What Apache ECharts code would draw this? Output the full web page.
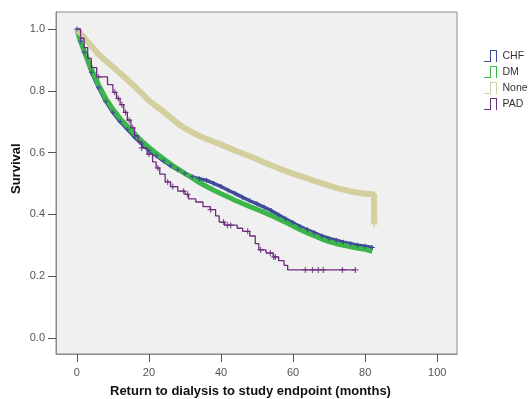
<!DOCTYPE html>
<html><head><meta charset="utf-8">
<script src="https://cdn.jsdelivr.net/npm/echarts@6/dist/echarts.min.js"></script>
<style>html,body{margin:0;padding:0;background:#fff}#c{width:530px;height:399px}</style>
</head><body><div id="c"></div>
<script>
const seriesNames = ['CHF', 'DM', 'None', 'PAD'];
const xTicks = [0, 20, 40, 60, 80, 100];
const yTicks = [0, 0.2, 0.4, 0.6, 0.8, 1.0];

const chfTimes = [0,1,2,4,6,8,10,12,14,16,18,20,22,24,26,28,30,32,34,36,38,40,42,44,46,48,50,52,54,56,58,60,62,64,66,68,70,72,74,76,78,80,82];
const chfSurv  = [1.0,0.96,0.925,0.86,0.81,0.765,0.73,0.70,0.675,0.65,0.628,0.607,0.59,0.573,0.557,0.544,0.533,0.522,0.515,0.51,0.50,0.49,0.478,0.467,0.455,0.444,0.434,0.423,0.412,0.398,0.385,0.373,0.36,0.35,0.34,0.33,0.322,0.316,0.31,0.305,0.30,0.297,0.293];

const dmTimes = [0,1,2,4,6,8,10,12,14,16,18,20,22,24,26,28,30,32,34,36,38,40,42,44,46,48,50,52,54,56,58,60,62,64,66,68,70,72,74,76,78,80,82];
const dmSurv  = [1.0,0.96,0.93,0.87,0.82,0.775,0.74,0.71,0.685,0.66,0.637,0.617,0.598,0.58,0.563,0.547,0.532,0.518,0.503,0.49,0.478,0.467,0.456,0.445,0.435,0.425,0.416,0.406,0.396,0.385,0.374,0.362,0.35,0.34,0.33,0.32,0.312,0.305,0.30,0.295,0.29,0.287,0.28];

const noneTimes = [0,2,4,6,8,10,12,14,16,18,20,22,24,26,28,30,32,34,36,38,40,42,44,46,48,50,52,54,56,58,60,62,64,66,68,70,72,74,76,78,80,82.5,82.5];
const noneSurv  = [1.0,0.972,0.945,0.918,0.897,0.877,0.857,0.836,0.814,0.792,0.768,0.75,0.733,0.713,0.694,0.678,0.665,0.654,0.644,0.635,0.626,0.616,0.606,0.597,0.588,0.578,0.568,0.558,0.549,0.54,0.532,0.524,0.516,0.508,0.50,0.493,0.486,0.48,0.474,0.47,0.467,0.465,0.37];

const padTimes = [0,1,2,3,4,5.5,8.5,10,11,12,13,14,15,16,17,18,19.5,21,22,23,24.5,26,28,30,31,33,35,37,38.5,39.5,41,44.5,46,48,49.5,50.5,52.5,54.5,56,57.5,58.5,77.3];
const padSurv  = [1.0,0.97,0.94,0.905,0.875,0.845,0.82,0.795,0.775,0.755,0.73,0.705,0.68,0.655,0.635,0.615,0.595,0.57,0.55,0.53,0.505,0.49,0.475,0.465,0.45,0.44,0.425,0.415,0.395,0.375,0.365,0.355,0.345,0.33,0.305,0.285,0.275,0.262,0.25,0.235,0.22,0.22];
const padCensor = [6,10.5,11.5,12.5,13.5,14.5,15.5,16.5,18,20,22.5,25.2,26.6,29.6,30.7,37.1,40.7,41.8,42.7,47.4,51,53.7,54.6,55.1,63.4,65.4,67,68.4,73.7,77.3];

const colors = {CHF:'#3f4c9c', DM:'#3cb54a', None:'#d3cf9f', PAD:'#6b2c7c'};

const zip = (a,b) => a.map((v,i)=>[v,b[i]]);
function stepAt(times, surv, t){ let y = surv[0]; for (let i=0;i<times.length;i++){ if (times[i] <= t) y = surv[i]; } return y; }

const plus = 'path://M4,0L6,0L6,4L10,4L10,6L6,6L6,10L4,10L4,6L0,6L0,4L4,4Z';
const stepIcon = 'path://M0,11L6,11L6,0L13,0L13,12L12,12L12,1L7,1L7,12L0,12Z';

const chart = echarts.init(document.getElementById('c'), null, {renderer:'canvas'});
const font = 'Liberation Sans, Arial, sans-serif';
chart.setOption({
  animation:false,
  backgroundColor:'#fff',
  grid:{left:56, right:73, top:12, bottom:45, show:true, backgroundColor:'#f0f0f0', borderColor:'#8a8a8a', borderWidth:1},
  legend:{
    orient:'vertical', left:479, top:45, itemWidth:18, itemHeight:12, itemGap:4,
    icon: stepIcon,
    textStyle:{fontFamily:font, fontSize:10.5, color:'#333', padding:[0,0,0,-2]},
    data: seriesNames
  },
  xAxis:{
    type:'value', min:-5.8, max:105.5,
    splitLine:{show:false},
    axisLine:{show:true, onZero:false, lineStyle:{color:'#8a8a8a'}},
    axisTick:{show:true, inside:false, length:8, customValues:xTicks, lineStyle:{color:'#555'}},
    axisLabel:{customValues:xTicks, fontFamily:font, fontSize:11, color:'#555', margin:13}
  },
  yAxis:{
    type:'value', min:-0.052, max:1.055,
    splitLine:{show:false},
    axisLine:{show:true, onZero:false, lineStyle:{color:'#8a8a8a'}},
    axisTick:{show:true, inside:false, length:8, customValues:yTicks, lineStyle:{color:'#555'}},
    axisLabel:{customValues:yTicks, fontFamily:font, fontSize:11, color:'#555', margin:11, formatter:v=>v.toFixed(1)}
  },
  graphic:[
    {type:'text', left:110, top:385, style:{text:'Return to dialysis to study endpoint (months)', font:'bold 13px '+font, fill:'#111'}},
    {type:'text', rotation:Math.PI/2, x:10, y:194, style:{text:'Survival', font:'bold 13px '+font, fill:'#111'}}
  ],
  series:[
    {name:'CHF', type:'line', data:zip(chfTimes,chfSurv), showSymbol:true, symbol:plus, symbolSize:5,
     itemStyle:{color:colors.CHF}, lineStyle:{color:colors.CHF, width:3.5}},
    {name:'DM', type:'line', data:zip(dmTimes,dmSurv), showSymbol:false, symbol:plus,
     itemStyle:{color:colors.DM}, lineStyle:{color:colors.DM, width:5}},
    {name:'None', type:'line', data:zip(noneTimes,noneSurv), showSymbol:false, symbol:plus,
     itemStyle:{color:colors.None}, lineStyle:{color:colors.None, width:6}},
    {name:'None', type:'scatter', data:[[noneTimes[noneTimes.length-1], noneSurv[noneSurv.length-1]]], symbol:plus, symbolSize:8,
     itemStyle:{color:colors.None}},
    {name:'PAD', type:'line', step:'end', data:zip(padTimes,padSurv), showSymbol:false, symbol:plus,
     itemStyle:{color:colors.PAD}, lineStyle:{color:colors.PAD, width:1.3}},
    {name:'PAD', type:'scatter', data:padCensor.map(t=>[t, stepAt(padTimes,padSurv,t)]), symbol:plus, symbolSize:6,
     itemStyle:{color:colors.PAD}}
  ]
});
</script></body></html>
